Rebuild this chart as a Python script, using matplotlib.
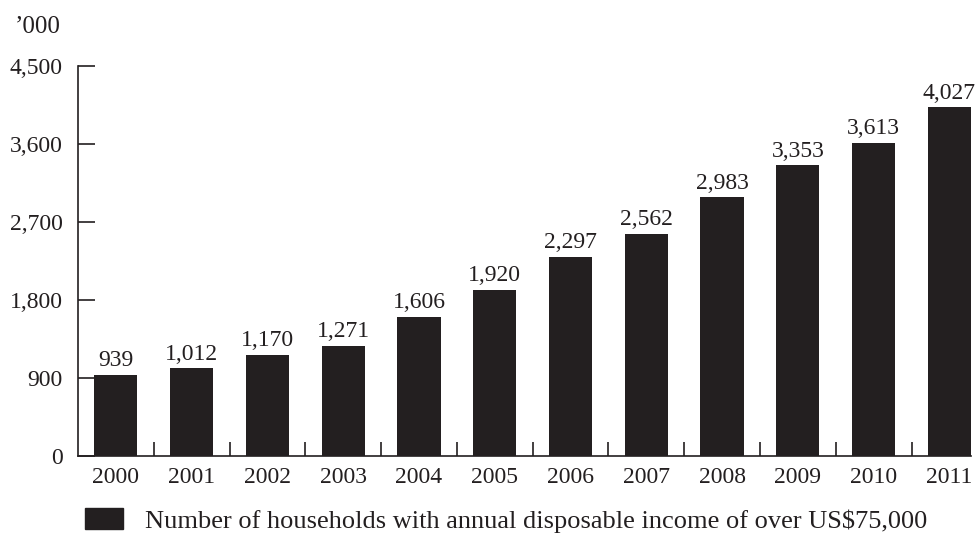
import matplotlib.pyplot as plt
from matplotlib.patches import Patch
import numpy as np

plt.rcParams['font.family'] = ['Liberation Serif', 'DejaVu Serif']

years = ['2000', '2001', '2002', '2003', '2004', '2005',
         '2006', '2007', '2008', '2009', '2010', '2011']
households = [939, 1012, 1170, 1271, 1606, 1920,
              2297, 2562, 2983, 3353, 3613, 4027]
y_ticks = [0, 900, 1800, 2700, 3600, 4500]
legend_label = 'Number of households with annual disposable income of over US$75,000'

bar_color = '#231f20'
fs = 17

fig = plt.figure(figsize=(9.79, 5.34), dpi=100)
ax = fig.add_axes([78 / 979, 78 / 534, 893 / 979, 390 / 534])

x = np.arange(len(years))
width = 0.57
ax.bar(x, households, width, color=bar_color, zorder=2)

# value labels on top of each bar
for xi, v in zip(x, households):
    ax.text(xi, v + 40, f'{v:,}', ha='center', va='bottom', fontsize=fs, color=bar_color)

ax.set_xlim(-0.5, len(years) - 1 + width / 2)
ax.set_ylim(0, 4500)

ax.set_yticks(y_ticks)
ax.set_yticklabels([f'{t:,}' for t in y_ticks])
ax.tick_params(axis='y', direction='in', length=12, width=1.2, labelsize=fs,
               pad=11, colors=bar_color)

ax.set_xticks(x)
ax.set_xticklabels(years)
ax.tick_params(axis='x', which='major', length=0, labelsize=fs, pad=8, colors=bar_color)
# small separators between the year groups
ax.set_xticks(x[:-1] + 0.5, minor=True)
ax.tick_params(axis='x', which='minor', direction='in', length=10, width=1.2, colors=bar_color)

for side in ['top', 'right']:
    ax.spines[side].set_visible(False)
for side in ['left', 'bottom']:
    ax.spines[side].set_linewidth(1.2)
    ax.spines[side].set_color(bar_color)

fig.text(15 / 979, 1 - 27 / 534, '\u2019000', fontsize=18, va='center', ha='left', color=bar_color)

fig.legend(handles=[Patch(color=bar_color, label=legend_label)],
           loc='center left', bbox_to_anchor=(85 / 979, 1 - 520.5 / 534),
           frameon=False, fontsize=19, handlelength=1.44, handleheight=0.87,
           handletextpad=0.83, borderpad=0, borderaxespad=0, labelcolor=bar_color)

fig.savefig('out.png', dpi=100)
